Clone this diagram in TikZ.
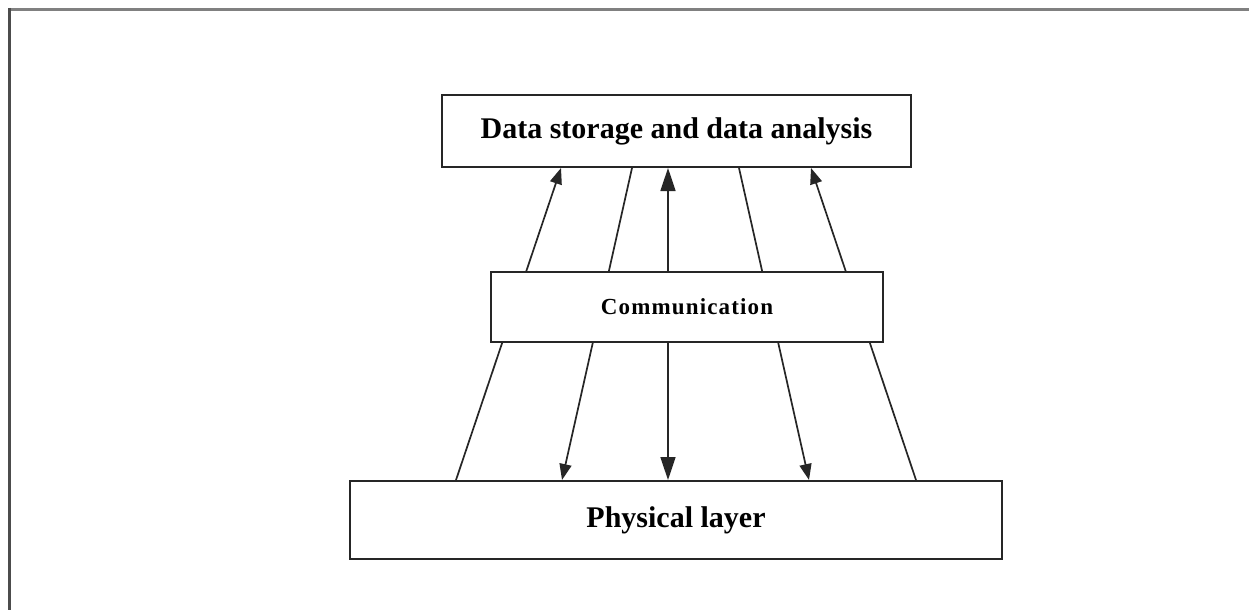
\documentclass[tikz,border=0pt]{standalone}
\usepackage{fontspec}
\setmainfont{Liberation Serif}
\usetikzlibrary{arrows.meta}
\begin{document}
\begin{tikzpicture}[x=1pt,y=-1pt,
  layer/.style={draw=black!85,line width=2pt,fill=white,rectangle,inner sep=0pt,font=\bfseries},
  link/.style={line width=1.7pt,draw=black!85},
  tipS/.style={-{Triangle[length=16pt,width=12pt]}},
  tipL/.style={{Triangle[length=23pt,width=15pt]}-{Triangle[length=23pt,width=15pt]}}]
  \useasboundingbox (0,0) rectangle (1249,610);
  \fill[white] (0,0) rectangle (1249,610);

  % outer frame, open at right and bottom
  \draw[line width=3pt,draw=black!50] (8,9.5) -- (1249,9.5);
  \draw[line width=3pt,draw=black!70] (9,8) -- (9,610);

  % top and bottom layers
  \node[layer,minimum width=469pt,minimum height=72pt] (top) at (676.5,131)
    {\fontsize{30}{36}\selectfont Data storage and data analysis};
  \node[layer,minimum width=652pt,minimum height=78pt] (phys) at (676,520)
    {\fontsize{30}{36}\selectfont Physical layer};

  % links between the physical layer and the top layer
  \draw[link,tipS]  ([xshift=107pt]phys.north west) -- ([xshift=120pt]top.south west);
  \draw[link,tipS]  ([xshift=191pt]top.south west) -- ([xshift=213pt]phys.north west);
  \draw[link,tipL]  ([xshift=227pt]top.south west) -- ([xshift=319pt]phys.north west);
  \draw[link,tipS]  ([xshift=298pt]top.south west) -- ([xshift=460pt]phys.north west);
  \draw[link,tipS]  ([xshift=567pt]phys.north west) -- ([xshift=370pt]top.south west);

  % middle layer, covering the links
  \node[layer,minimum width=392pt,minimum height=70pt] (comm) at (687,307)
    {\fontsize{23}{28}\selectfont\addfontfeature{LetterSpace=5}Communication};
\end{tikzpicture}
\end{document}
